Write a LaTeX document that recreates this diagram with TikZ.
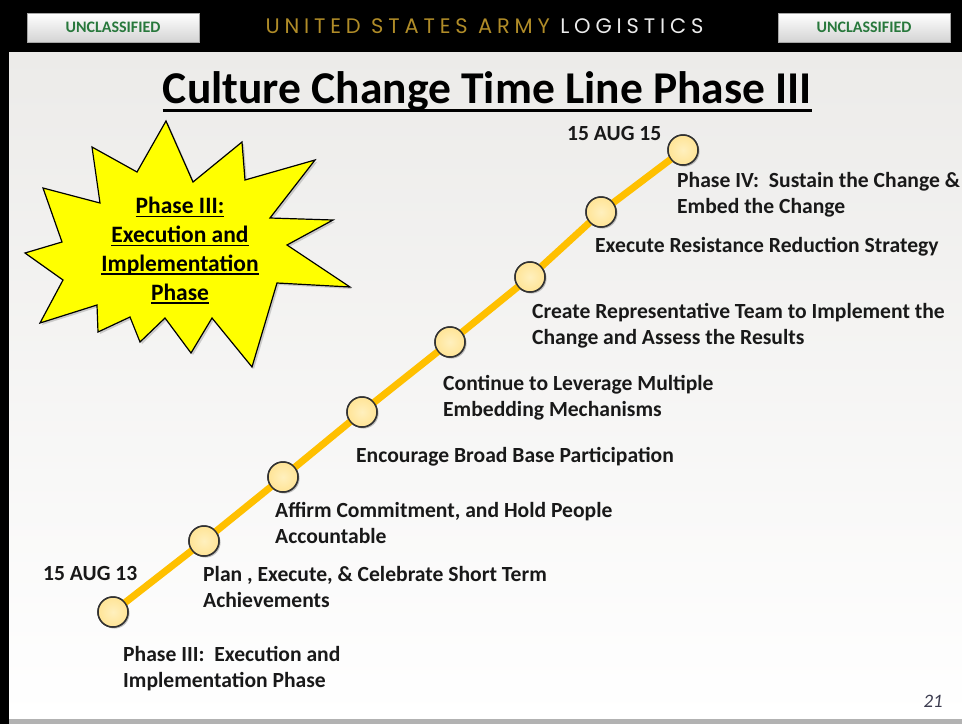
\documentclass[tikz,border=0pt]{standalone}
\usepackage{fontspec}
\setmainfont{Carlito}
\newfontfamily\headfont[LetterSpace=23]{Poppins}
\newcommand\ulbox[1]{\setbox0\hbox{#1}\rlap{\rule[-3.5pt]{\wd0}{1.4pt}}\box0}
\usetikzlibrary{shadows,calc}
\definecolor{tlgold}{RGB}{255,192,0}
\definecolor{dotfill}{RGB}{255,228,150}
\definecolor{dotinner}{RGB}{255,240,190}
\definecolor{dotedge}{RGB}{50,50,50}
\definecolor{hdgold}{RGB}{176,140,40}
\definecolor{hdwhite}{RGB}{235,235,235}
\definecolor{uncgreen}{RGB}{40,120,60}
\definecolor{paneltop}{RGB}{236,235,233}
\definecolor{pagenum}{RGB}{60,60,80}
\definecolor{burstyellow}{RGB}{255,255,0}
\begin{document}
\begin{tikzpicture}[x=1pt,y=-1pt,
  dot/.style={circle, minimum size=30pt, inner sep=0pt, inner color=dotinner, outer color=dotfill, draw=dotedge, line width=1.5pt,
    drop shadow={shadow xshift=1.5pt, shadow yshift=-1.5pt, opacity=0.3}},
  lbl/.style={anchor=base west, inner sep=0pt, font=\fontsize{21.6}{25.5}\selectfont\bfseries, align=left, text=black!90},
  unc/.style={minimum width=172pt, minimum height=29pt, inner sep=0pt, top color=white, bottom color={rgb,255:red,212;green,212;blue,212},
    draw=gray!70, line width=0.6pt, font=\fontsize{16}{16}\selectfont\bfseries, text=uncgreen},
  tline/.style={draw=tlgold, line width=7pt}
]
\useasboundingbox (0,0) rectangle (962,724);
% background
\fill[black] (0,0) rectangle (962,724);
\shade[top color=paneltop, bottom color=white] (9,52) rectangle (962,719);
\fill[gray!60] (9,719) rectangle (962,724);

% header
\node[unc] (uncL) at (113,27.5) {UNCLASSIFIED};
\node[unc] (uncR) at (864,27.5) {UNCLASSIFIED};
\node[anchor=base, inner sep=0pt, font=\headfont\fontsize{21}{21}\selectfont] (head) at (484.5,33)
  {\textcolor{hdgold}{UNITED STATES ARMY} \textcolor{hdwhite}{LOGISTICS}};

% title
\node[anchor=base, inner sep=0pt, font=\fontsize{45.5}{45.5}\selectfont\bfseries] (title) at (487.5,103) {Culture Change Time Line Phase III};
\draw[line width=3pt] ($(title.base west)+(0,7)$) -- ($(title.base east)+(0,7)$);

% starburst
\fill[burstyellow, draw=black, line width=1.2pt, line join=miter,
  drop shadow={shadow xshift=2pt, shadow yshift=-2pt, opacity=0.35}]
  (166,121) -- (193,182) -- (242,142) -- (245,180) -- (315,160) -- (270,218) -- (333,220) -- (287,245)
  -- (350,287) -- (277,283) -- (252,367) -- (212,318) -- (191,353) -- (165,318) -- (140,342) -- (130,317)
  -- (98,332) -- (97,305) -- (40,323) -- (63,280) -- (25,253) -- (62,242) -- (43,188) -- (100,203)
  -- (92,147) -- (137,172) -- cycle;
\node[anchor=base, inner sep=0pt, align=center, font=\fontsize{23.5}{28.7}\selectfont\bfseries] (burst) at (180,300)
  {\ulbox{Phase III:}\\ \ulbox{Execution and}\\ \ulbox{Implementation}\\ \ulbox{Phase}};

% timeline
\node[dot] (d1) at (113,612) {};
\node[dot] (d2) at (204,541) {};
\node[dot] (d3) at (283,477) {};
\node[dot] (d4) at (362,412) {};
\node[dot] (d5) at (450,342) {};
\node[dot] (d6) at (530,277) {};
\node[dot] (d7) at (601,212) {};
\node[dot] (d8) at (683,150) {};
\path[tline] (d1.center) -- (d2.center) -- (d3.center) -- (d4.center) -- (d5.center) -- (d6.center) -- (d7.center) -- (d8.center);
\foreach \n in {1,...,8} {\node[dot] at (d\n) {};}

% labels (multi-line nodes are placed by the baseline of their last line)
\node[lbl] (t8) at (567,140) {15 AUG 15};
\node[lbl] (l8) at (677,213) {Phase IV:\ \ Sustain the Change \&\\Embed the Change};
\node[lbl] (l7) at (595,252) {Execute Resistance Reduction Strategy};
\node[lbl] (l6) at (532,344) {Create Representative Team to Implement the\\Change and Assess the Results};
\node[lbl] (l5) at (443,416) {Continue to Leverage Multiple\\Embedding Mechanisms};
\node[lbl] (l4) at (356,462) {Encourage Broad Base Participation};
\node[lbl] (l3) at (275,543) {Affirm Commitment, and Hold People\\Accountable};
\node[lbl] (l2) at (203,607) {Plan , Execute, \& Celebrate Short Term\\Achievements};
\node[lbl] (t1) at (43,580) {15 AUG 13};
\node[lbl] (l1) at (123,687) {Phase III:\ \ Execution and\\Implementation Phase};

\node[anchor=base east, inner sep=0pt, font=\fontsize{19}{19}\selectfont\itshape, text=pagenum] (pg) at (943,707) {21};
\end{tikzpicture}
\end{document}
